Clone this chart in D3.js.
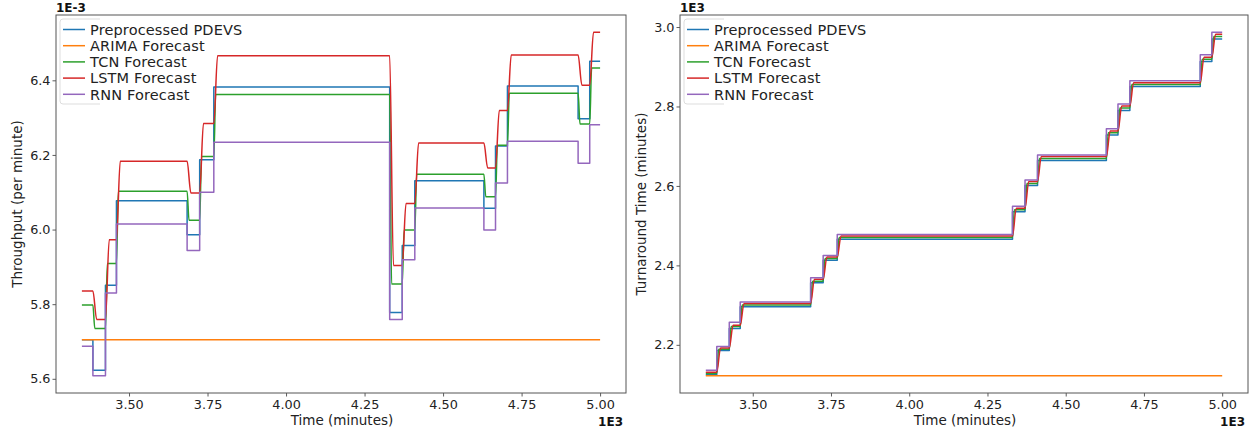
<!DOCTYPE html>
<html>
<head>
<meta charset="utf-8">
<script src="https://cdn.jsdelivr.net/npm/d3@7"></script>
<style>
  html, body { margin: 0; padding: 0; background: #fff; }
  svg { display: block; font-family: "DejaVu Sans", sans-serif; }
</style>
</head>
<body>
<div id="chart"></div>
<script>
// time stamps (minutes) where each step starts; last step ends at tEnd
const times = [3350, 3385, 3425, 3460, 3685, 3725, 3770, 4330, 4370, 4410, 4630, 4667, 4705, 4930, 4967];
const tEnd = 5000;
const xTicks = [3500, 3750, 4000, 4250, 4500, 4750, 5000];

const seriesNames = ["Preprocessed PDEVS", "ARIMA Forecast", "TCN Forecast", "LSTM Forecast", "RNN Forecast"];
const colors = ["#1f77b4", "#ff7f0e", "#2ca02c", "#d62728", "#9467bd"];

// throughput, in units of 1E-3 per minute
const pdevsThroughput = [5.705, 5.623, 5.851, 6.077, 5.986, 6.187, 6.382, 5.778, 5.957, 6.131, 6.057, 6.224, 6.385, 6.297, 6.451];
const arimaThroughput = [5.705, 5.705, 5.705, 5.705, 5.705, 5.705, 5.705, 5.705, 5.705, 5.705, 5.705, 5.705, 5.705, 5.705, 5.705];
const tcnThroughput   = [5.798, 5.735, 5.909, 6.103, 6.025, 6.196, 6.362, 5.854, 5.999, 6.148, 6.088, 6.226, 6.365, 6.283, 6.433];
const lstmThroughput  = [5.835, 5.759, 5.973, 6.183, 6.098, 6.284, 6.466, 5.904, 6.070, 6.232, 6.165, 6.319, 6.468, 6.387, 6.529];
const rnnThroughput   = [5.687, 5.608, 5.830, 6.015, 5.944, 6.100, 6.234, 5.759, 5.919, 6.058, 5.999, 6.125, 6.237, 6.178, 6.281];
const throughputTicks = [5.6, 5.8, 6.0, 6.2, 6.4];

// turnaround time, in units of 1E3 minutes
const pdevsTurnaround = [2.125, 2.186, 2.241, 2.296, 2.356, 2.413, 2.466, 2.535, 2.601, 2.664, 2.728, 2.790, 2.850, 2.913, 2.970];
const arimaTurnaround = [2.122, 2.122, 2.122, 2.122, 2.122, 2.122, 2.122, 2.122, 2.122, 2.122, 2.122, 2.122, 2.122, 2.122, 2.122];
const tcnTurnaround   = [2.128, 2.189, 2.246, 2.300, 2.360, 2.417, 2.470, 2.540, 2.606, 2.669, 2.734, 2.796, 2.855, 2.919, 2.976];
const lstmTurnaround  = [2.131, 2.192, 2.249, 2.304, 2.365, 2.421, 2.474, 2.544, 2.611, 2.674, 2.738, 2.801, 2.860, 2.924, 2.982];
const rnnTurnaround   = [2.136, 2.196, 2.257, 2.308, 2.369, 2.425, 2.478, 2.549, 2.615, 2.678, 2.744, 2.806, 2.865, 2.930, 2.987];
const turnaroundTicks = [2.2, 2.4, 2.6, 2.8, 3.0];

// how many minutes each model takes to settle after a step (0 = sharp step)
const lags = [0, 0, 6, 12, 0];

const width = 1255;
const height = 433;

const svg = d3.select("#chart")
    .append("svg")
    .attr("width", width)
    .attr("height", height);

svg.append("rect").attr("width", width).attr("height", height).attr("fill", "#fff");

const stepPoints = (values, lag) => {
    const pts = [[times[0], values[0]]];
    for (let i = 1; i < times.length; i++) {
        pts.push([times[i], values[i - 1]]);
        pts.push([times[i] + lag, values[i]]);
    }
    pts.push([tEnd, values[values.length - 1]]);
    return pts;
};

const drawPanel = (opts) => {
    const { left, right, top, bottom, series, yTicks, yLabel, topExp, bottomExp } = opts;
    const g = svg.append("g");

    const all = series.flat();
    const lo = d3.min(all), hi = d3.max(all);
    const pad = (hi - lo) * 0.05;
    const xPad = (tEnd - times[0]) * 0.05;

    const x = d3.scaleLinear().domain([times[0] - xPad, tEnd + xPad]).range([left, right]);
    const y = d3.scaleLinear().domain([lo - pad, hi + pad]).range([bottom, top]);

    // lines, in matplotlib plot order
    series.forEach((values, i) => {
        const lag = lags[i];
        const line = d3.line()
            .x(d => x(d[0]))
            .y(d => y(d[1]))
            .curve(lag > 0 ? d3.curveMonotoneX : d3.curveLinear);
        g.append("path")
            .attr("d", line(stepPoints(values, lag)))
            .attr("fill", "none")
            .attr("stroke", colors[i])
            .attr("stroke-width", 1.5)
            .attr("stroke-linejoin", "round");
    });

    // axes
    const xAxis = g.append("g")
        .attr("transform", `translate(0,${bottom})`)
        .call(d3.axisBottom(x).tickValues(xTicks).tickFormat(d => (d / 1000).toFixed(2)).tickSize(3.5).tickSizeOuter(0));
    const yAxis = g.append("g")
        .attr("transform", `translate(${left},0)`)
        .call(d3.axisLeft(y).tickValues(yTicks).tickFormat(d3.format(".1f")).tickSize(3.5).tickSizeOuter(0));
    [xAxis, yAxis].forEach(a => {
        a.select(".domain").remove();
        a.selectAll(".tick line").attr("stroke", "#333").attr("stroke-width", 0.8);
        a.selectAll(".tick text")
            .attr("font-size", 12.8)
            .attr("font-family", "DejaVu Sans")
            .attr("fill", "#222");
    });
    xAxis.selectAll(".tick text").attr("dy", "0.71em").attr("y", 6.5);
    yAxis.selectAll(".tick text").attr("x", -5.5);

    // frame
    g.append("rect")
        .attr("x", left).attr("y", top)
        .attr("width", right - left).attr("height", bottom - top)
        .attr("fill", "none").attr("stroke", "#555").attr("stroke-width", 1);

    // axis titles
    g.append("text")
        .attr("x", (left + right) / 2 + 1).attr("y", 425)
        .attr("text-anchor", "middle").attr("font-size", 13.5).attr("fill", "#222")
        .text("Time (minutes)");
    g.append("text")
        .attr("transform", `translate(${left - 39},${(top + bottom) / 2}) rotate(-90)`)
        .attr("dy", "0.35em")
        .attr("text-anchor", "middle").attr("font-size", 13.5).attr("fill", "#222")
        .text(yLabel);

    // exponent labels
    g.append("text")
        .attr("x", left).attr("y", 12)
        .attr("font-size", 12).attr("font-weight", "bold").attr("fill", "#111")
        .text(topExp);
    g.append("text")
        .attr("x", right - 3).attr("y", 426)
        .attr("text-anchor", "end")
        .attr("font-size", 12).attr("font-weight", "bold").attr("fill", "#111")
        .text(bottomExp);

    // legend (frame is cut off on the right, as in the original)
    const lg = g.append("g").attr("transform", `translate(${left + 4},${top + 4})`);
    lg.append("path")
        .attr("d", "M40,0 H3 Q0,0 0,3 V82 Q0,85 3,85 H40")
        .attr("fill", "rgba(255,255,255,0.8)")
        .attr("stroke", "#ddd")
        .attr("stroke-width", 1);
    seriesNames.forEach((name, i) => {
        const cy = 10.5 + i * 16.2;
        lg.append("line")
            .attr("x1", 3).attr("x2", 25)
            .attr("y1", cy).attr("y2", cy)
            .attr("stroke", colors[i]).attr("stroke-width", 1.5);
        lg.append("text")
            .attr("x", 30).attr("y", cy)
            .attr("dy", "0.36em")
            .attr("font-size", 14.5)
            .attr("letter-spacing", 0.15)
            .attr("fill", "#222")
            .text(name);
    });
};

drawPanel({
    left: 56, right: 626, top: 15, bottom: 393,
    series: [pdevsThroughput, arimaThroughput, tcnThroughput, lstmThroughput, rnnThroughput],
    yTicks: throughputTicks,
    yLabel: "Throughput (per minute)",
    topExp: "1E-3",
    bottomExp: "1E3"
});

drawPanel({
    left: 680, right: 1248, top: 15, bottom: 393,
    series: [pdevsTurnaround, arimaTurnaround, tcnTurnaround, lstmTurnaround, rnnTurnaround],
    yTicks: turnaroundTicks,
    yLabel: "Turnaround Time (minutes)",
    topExp: "1E3",
    bottomExp: "1E3"
});
</script>
</body>
</html>
